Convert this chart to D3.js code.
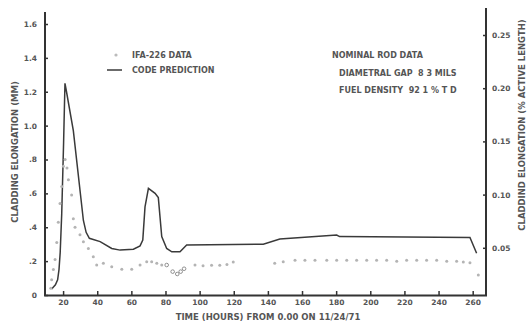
<!DOCTYPE html>
<html>
<head>
<meta charset="utf-8">
<script src="https://cdn.jsdelivr.net/npm/d3@7"></script>
<style>
  body { margin: 0; background: #fff; }
  svg text { font-family: "DejaVu Sans", sans-serif; font-weight: bold; fill: #555; }
  .axis text { font-size: 7.5px; }
  .axis line { stroke: #333; stroke-width: 1.5; }
</style>
</head>
<body>
<svg id="chart" width="527" height="327"></svg>
<script>
// code prediction (solid line)
var predHours = [13.3, 15.5, 16.8, 17.6, 18.3, 19.2, 20.3, 21.1, 22, 26, 31.9, 33.5, 35.4, 41.7, 48.5, 53.4, 61.2, 65.1, 66.7, 68, 70, 73.9, 75.8, 77.8, 80.7, 83.7, 88.5, 92.4, 137.3, 147, 180.3, 182, 258.4, 262.3];
var predMM = [0.035, 0.06, 0.09, 0.15, 0.25, 0.48, 0.9, 1.25, 1.2, 0.97, 0.44, 0.37, 0.335, 0.315, 0.275, 0.265, 0.27, 0.29, 0.325, 0.52, 0.63, 0.60, 0.575, 0.345, 0.275, 0.255, 0.255, 0.295, 0.30, 0.33, 0.354, 0.345, 0.34, 0.246];

// IFA-226 measured data (dots)
var dataHours = [12.8, 13.3, 14.3, 15.3, 16.3, 17.2, 18.2, 19.2, 20.2, 21.2, 22.3, 23.1, 25, 26, 27, 29.9, 31.9, 34.8, 37.7, 39.7, 43.6, 48.5, 54.4, 60.2, 65.1, 69, 71.9, 74.9, 77.8, 97.3, 102, 107, 111.8, 116, 119.7, 144, 149, 155.9, 161.7, 167.6, 174.5, 180.3, 186.2, 192, 197.9, 203.7, 209.6, 215.5, 221.3, 227.2, 233, 238.9, 244.8, 250.6, 254.5, 258.4, 263.3];
var dataMM = [0.04, 0.09, 0.15, 0.21, 0.31, 0.43, 0.54, 0.64, 0.76, 0.80, 0.75, 0.68, 0.59, 0.45, 0.40, 0.355, 0.315, 0.275, 0.226, 0.177, 0.187, 0.167, 0.152, 0.152, 0.177, 0.197, 0.197, 0.187, 0.177, 0.177, 0.172, 0.175, 0.175, 0.18, 0.195, 0.187, 0.197, 0.205, 0.205, 0.205, 0.205, 0.205, 0.205, 0.205, 0.205, 0.205, 0.205, 0.2, 0.205, 0.205, 0.205, 0.205, 0.2, 0.2, 0.195, 0.19, 0.118];

// open circle points
var openHours = [80.7, 84.2, 86.9, 88.9, 90.9];
var openMM = [0.177, 0.138, 0.124, 0.138, 0.155];

var xTicks = [20, 40, 60, 80, 100, 120, 140, 160, 180, 200, 220, 240, 260];
var leftTicks = [0, 0.2, 0.4, 0.6, 0.8, 1.0, 1.2, 1.4, 1.6];
var leftLabels = ["0", ".2", ".4", ".6", ".8", "1.0", "1.2", "1.4", "1.6"];
var rightTicks = [0.05, 0.10, 0.15, 0.20, 0.25];

var svg = d3.select("#chart");

var x = d3.scaleLinear().domain([9.4, 267.8]).range([45, 486]),
    yL = d3.scaleLinear().domain([0, 1.6]).range([295, 24]),
    yR = d3.scaleLinear().domain([0, 0.25]).range([301, 35]);

// axes (ticks point inward)
svg.append("g")
    .attr("class", "axis")
    .attr("transform", "translate(0,295)")
    .call(d3.axisBottom(x).tickValues(xTicks).tickSize(-4).tickPadding(5))
    .call(function (g) { g.select(".domain").remove(); });

svg.append("g")
    .attr("class", "axis")
    .attr("transform", "translate(45,0)")
    .call(d3.axisLeft(yL).tickValues(leftTicks).tickFormat(function (d, i) { return leftLabels[i]; })
        .tickSize(-3).tickPadding(8))
    .call(function (g) { g.select(".domain").remove(); });

svg.append("g")
    .attr("class", "axis")
    .attr("transform", "translate(486,0)")
    .call(d3.axisRight(yR).tickValues(rightTicks).tickFormat(d3.format(".2f")).tickSize(-3).tickPadding(6))
    .call(function (g) { g.select(".domain").remove(); });

// frame lines
svg.append("path")
    .attr("d", "M45,12V295.5H486V8")
    .attr("fill", "none")
    .attr("stroke", "#333")
    .attr("stroke-width", 2);

// prediction line
var pred = predHours.map(function (h, i) { return [h, predMM[i]]; });
svg.append("path")
    .datum(pred)
    .attr("fill", "none")
    .attr("stroke", "#3a3a3a")
    .attr("stroke-width", 1.5)
    .attr("d", d3.line()
        .x(function (d) { return x(d[0]); })
        .y(function (d) { return yL(d[1]); }));

// data dots
svg.selectAll(".dot")
    .data(dataHours)
    .enter().append("circle")
    .attr("class", "dot")
    .attr("cx", function (d) { return x(d); })
    .attr("cy", function (d, i) { return yL(dataMM[i]); })
    .attr("r", 1.5)
    .attr("fill", "#b4b4b4");

svg.selectAll(".open")
    .data(openHours)
    .enter().append("circle")
    .attr("class", "open")
    .attr("cx", function (d) { return x(d); })
    .attr("cy", function (d, i) { return yL(openMM[i]); })
    .attr("r", 1.8)
    .attr("fill", "none")
    .attr("stroke", "#777")
    .attr("stroke-width", 0.8);

// legend
svg.append("circle").attr("cx", 116).attr("cy", 55).attr("r", 1.6).attr("fill", "#bbb");
svg.append("text").attr("x", 132).attr("y", 58).style("font-size", "8px").text("IFA-226 DATA");
svg.append("line").attr("x1", 107).attr("x2", 122).attr("y1", 70).attr("y2", 70)
    .attr("stroke", "#3a3a3a").attr("stroke-width", 1.5);
svg.append("text").attr("x", 132).attr("y", 73).style("font-size", "8px").text("CODE PREDICTION");

// nominal rod data
svg.append("text").attr("x", 332).attr("y", 58).style("font-size", "8px").text("NOMINAL ROD DATA");
svg.append("text").attr("x", 339).attr("y", 76).style("font-size", "8px").attr("xml:space", "preserve")
    .text("DIAMETRAL GAP  8 3 MILS");
svg.append("text").attr("x", 339).attr("y", 93).style("font-size", "8px").attr("xml:space", "preserve")
    .text("FUEL DENSITY  92 1 % T D");

// axis titles
svg.append("text")
    .attr("x", 268).attr("y", 320)
    .attr("text-anchor", "middle")
    .style("font-size", "8.5px")
    .text("TIME (HOURS) FROM 0.00 ON 11/24/71");

svg.append("text")
    .attr("transform", "translate(18,152) rotate(-90)")
    .attr("text-anchor", "middle")
    .style("font-size", "8.5px")
    .text("CLADDING ELONGATION (MM)");

svg.append("text")
    .attr("transform", "translate(525,125) rotate(-90)")
    .attr("text-anchor", "middle")
    .style("font-size", "8.5px")
    .text("CLADDIND ELONGATION (% ACTIVE LENGTH)");
</script>
</body>
</html>
